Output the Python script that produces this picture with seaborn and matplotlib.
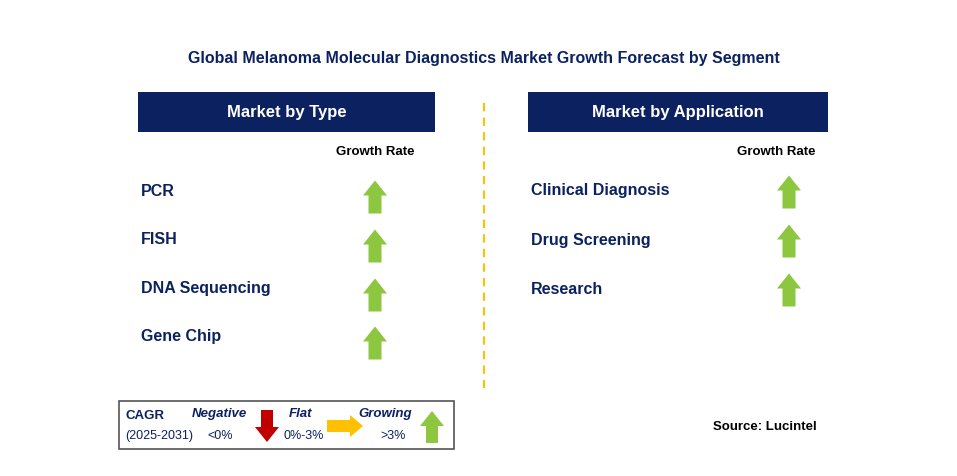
import matplotlib
matplotlib.use("Agg")
import matplotlib.pyplot as plt
import seaborn as sns
from matplotlib.patches import Rectangle, Polygon

sns.set_theme(style="white", font="Liberation Sans")

title = "Global Melanoma Molecular Diagnostics Market Growth Forecast by Segment"
type_categories = ["PCR", "FISH", "DNA Sequencing", "Gene Chip"]
type_growth = ["up", "up", "up", "up"]
app_categories = ["Clinical Diagnosis", "Drug Screening", "Research"]
app_growth = ["up", "up", "up"]
row_y = [191, 240, 289, 337]

NAVY = "#0b2160"
GREEN = "#8dc63f"
RED = "#c00000"
ORANGE = "#ffc000"

fig = plt.figure(figsize=(9.57, 4.76), dpi=100)
ax = fig.add_axes([0, 0, 1, 1])
ax.set_xlim(0, 957)
ax.set_ylim(476, 0)
ax.axis("off")

def arrow(cx, cy, direction, color, h=33, w=24, sw=13, head=15):
    if direction == "up":
        top, bot = cy - h/2, cy + h/2
        pts = [(cx, top), (cx + w/2, top + head), (cx + sw/2, top + head), (cx + sw/2, bot),
               (cx - sw/2, bot), (cx - sw/2, top + head), (cx - w/2, top + head)]
    elif direction == "down":
        top, bot = cy - h/2, cy + h/2
        pts = [(cx, bot), (cx + w/2, bot - head), (cx + sw/2, bot - head), (cx + sw/2, top),
               (cx - sw/2, top), (cx - sw/2, bot - head), (cx - w/2, bot - head)]
    else:
        l, r = cx - h/2, cx + h/2
        pts = [(r, cy), (r - head, cy - w/2), (r - head, cy - sw/2), (l, cy - sw/2),
               (l, cy + sw/2), (r - head, cy + sw/2), (r - head, cy + w/2)]
    ax.add_patch(Polygon(pts, closed=True, color=color, lw=0))

ax.text(484, 58, title, ha="center", va="center", fontsize=11.5, fontweight="bold", color=NAVY)

for x0, x1, label in [(138, 435, "Market by Type"), (528, 828, "Market by Application")]:
    ax.add_patch(Rectangle((x0, 92), x1 - x0, 40, color=NAVY, lw=0))
    ax.text((x0 + x1) / 2, 112, label, ha="center", va="center", fontsize=12, fontweight="bold", color="white")

ax.plot([484, 484], [103, 388], color=ORANGE, ls=(0, (4, 3)), lw=1.5)

ax.text(375, 152, "Growth Rate", ha="center", va="center", fontsize=9.5, fontweight="bold", color="black")
ax.text(776, 152, "Growth Rate", ha="center", va="center", fontsize=9.5, fontweight="bold", color="black")

for i, (c, g) in enumerate(zip(type_categories, type_growth)):
    ax.text(141, row_y[i], c, ha="left", va="center", fontsize=11.5, fontweight="bold", color=NAVY)
    arrow(375, row_y[i] + 6, g, GREEN)
for i, (c, g) in enumerate(zip(app_categories, app_growth)):
    ax.text(531, row_y[i], c, ha="left", va="center", fontsize=11.5, fontweight="bold", color=NAVY)
    arrow(789, row_y[i] + 1, g, GREEN)

# legend box
ax.add_patch(Rectangle((119, 401), 335, 48, fill=False, ec="#555555", lw=1.2))
ax.text(125, 416, "CAGR", fontsize=9.5, fontweight="bold", color=NAVY, va="center")
ax.text(125, 436, "(2025-2031)", fontsize=9, color=NAVY, va="center")
ax.text(219, 414, "Negative", fontsize=9.5, fontweight="bold", style="italic", color=NAVY, ha="center", va="center")
ax.text(220, 436, "<0%", fontsize=9, color=NAVY, ha="center", va="center")
arrow(267, 426, "down", RED, h=32, w=24, sw=12, head=15)
ax.text(301, 414, "Flat", fontsize=9.5, fontweight="bold", style="italic", color=NAVY, ha="center", va="center")
ax.text(304, 436, "0%-3%", fontsize=9, color=NAVY, ha="center", va="center")
arrow(345, 426, "right", ORANGE, h=36, w=22, sw=12, head=13)
ax.text(385, 414, "Growing", fontsize=9.5, fontweight="bold", style="italic", color=NAVY, ha="center", va="center")
ax.text(393, 436, ">3%", fontsize=9, color=NAVY, ha="center", va="center")
arrow(432, 427, "up", GREEN, h=32, w=24, sw=12, head=15)

ax.text(765, 427, "Source: Lucintel", fontsize=9.5, fontweight="bold", color="black", ha="center", va="center")

fig.savefig("out.png", dpi=100, facecolor="white")
